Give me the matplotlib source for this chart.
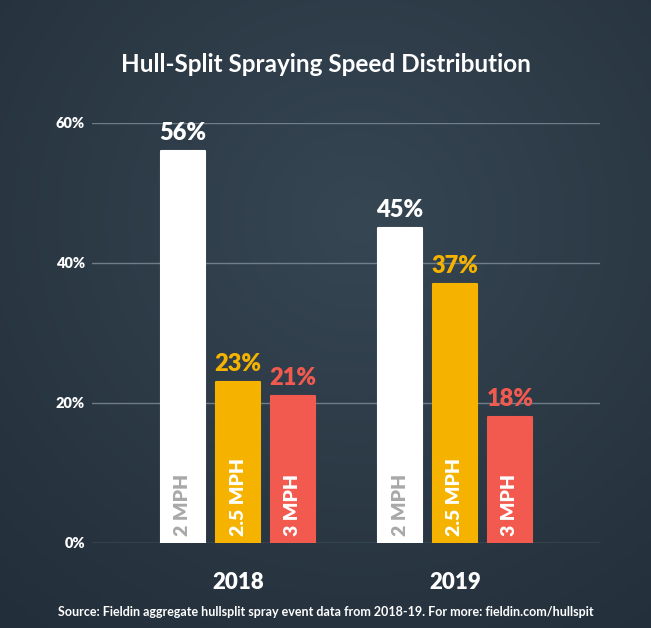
import numpy as np
import matplotlib
matplotlib.use("Agg")
import matplotlib.pyplot as plt

years = ["2018", "2019"]
speeds = ["2 MPH", "2.5 MPH", "3 MPH"]
values = {
    "2 MPH": [56, 45],
    "2.5 MPH": [23, 37],
    "3 MPH": [21, 18],
}
bar_colors = {"2 MPH": "#ffffff", "2.5 MPH": "#f5b300", "3 MPH": "#f25a50"}
label_colors = {"2 MPH": "#ffffff", "2.5 MPH": "#f5b300", "3 MPH": "#f25a50"}
inner_colors = {"2 MPH": "#a8a8a8", "2.5 MPH": "#ffffff", "3 MPH": "#ffffff"}
yticks = [0, 20, 40, 60]
ytick_labels = ["0%", "20%", "40%", "60%"]
title = "Hull-Split Spraying Speed Distribution"
source = "Source: Fieldin aggregate hullsplit spray event data from 2018-19. For more: fieldin.com/hullspit"

plt.rcParams['font.family'] = ['Lato', 'DejaVu Sans']

W, H = 651, 628
fig = plt.figure(figsize=(W / 100, H / 100), dpi=100)

# background gradient (decorative)
bg = fig.add_axes([0, 0, 1, 1])
yy, xx = np.mgrid[0:1:200j, 0:1:200j]
r = np.sqrt((xx - 0.55) ** 2 + (yy - 0.35) ** 2)
base = np.array([0x36, 0x46, 0x53]) / 255
dark = np.array([0x22, 0x2e, 0x39]) / 255
t = np.clip(r / 0.85, 0, 1)[..., None]
img = base * (1 - t) + dark * t
bg.imshow(img, aspect="auto", extent=[0, 1, 0, 1], origin="upper")
bg.set_axis_off()

left = 92 / W
right = 600 / W
bottom = (H - 543) / H
top = (H - 123) / H
ax = fig.add_axes([left, bottom, right - left, top - bottom])
ax.set_facecolor("none")
ax.set_ylim(0, 60)
ax.set_xlim(-(238 - 92) / 217, (600 - 238) / 217)

width = 44 / 217
offset = 55 / 217
x = np.arange(len(years))
for i, s in enumerate(speeds):
    xs = x + (i - 1) * offset
    bars = ax.bar(xs, values[s], width=width, color=bar_colors[s],
                  edgecolor=bar_colors[s], linewidth=1.5, zorder=3)
    for b in bars:
        b.set_joinstyle("round")
    for xi, v in zip(xs, values[s]):
        ax.annotate(f"{v}%", (xi, v), xytext=(0, 5), textcoords="offset points",
                    ha="center", va="bottom", fontsize=17, fontweight="heavy",
                    color=label_colors[s], zorder=4, annotation_clip=False)
        ax.annotate(s, (xi, 0), xytext=(0, 5), textcoords="offset points",
                    ha="center", va="bottom", rotation=90, fontsize=14,
                    fontweight="heavy", color=inner_colors[s], zorder=4)

ax.set_yticks(yticks)
ax.set_yticklabels(ytick_labels, color="white", fontsize=10.5, fontweight="heavy")
ax.tick_params(axis="y", length=0, pad=5)
ax.set_xticks(x)
ax.set_xticklabels(years, color="white", fontsize=16, fontweight="heavy")
ax.tick_params(axis="x", length=0, pad=21)
ax.grid(axis="y", color="#7f8f9a", linewidth=1, alpha=0.8, zorder=0)
for sp in ax.spines.values():
    sp.set_visible(False)

fig.text(0.5, (H - 65) / H, title, ha="center", va="center", color="white",
         fontsize=17.5, fontweight="bold")
fig.text(0.5, (H - 612) / H, source, ha="center", va="center", color="white",
         fontsize=9, fontweight="bold")

fig.savefig("out.png", dpi=100)
